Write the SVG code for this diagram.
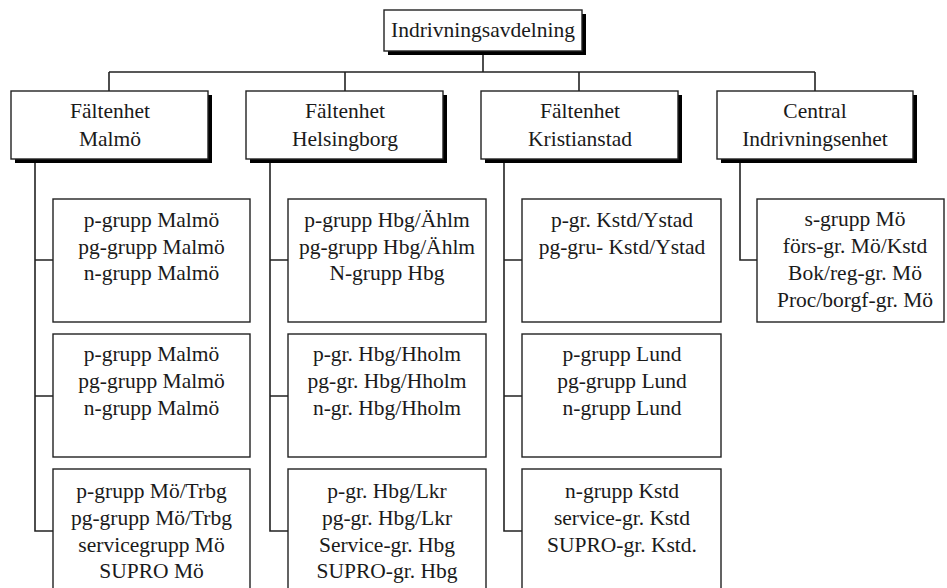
<svg xmlns="http://www.w3.org/2000/svg" width="947" height="588" viewBox="0 0 947 588">
<style>
.box{fill:#fff;stroke:#222;stroke-width:1.4}
.sh{fill:#000}
.ln{fill:none;stroke:#222;stroke-width:1.6}
.t text{font-size:21.5px;fill:#1a1a1a;text-anchor:middle}
</style>
<rect width="947" height="588" fill="#fff"/>
<g id="connectors">
<path class="ln" d="M483 51V72M109 72H815M109 72V91M345 72V91M579 72V91M815 72V91"/>
<path class="ln" d="M35 159V531H53M35 260H53M35 396H53"/>
<path class="ln" d="M270 159V531H288M270 260H288M270 396H288"/>
<path class="ln" d="M504 159V531H522M504 260H522M504 396H522"/>
<path class="ln" d="M740 159V260H757"/>
</g>
<g class="t" font-family="Liberation Serif, Times New Roman, serif">
<g id="root">
<rect class="sh" x="388" y="14" width="198" height="41"/>
<rect class="box" x="384" y="10" width="198" height="41"/>
<text x="483" y="37">Indrivningsavdelning</text>
</g>
<g id="malmo">
<rect class="sh" x="15" y="95" width="197" height="68"/>
<rect class="box" x="11" y="91" width="197" height="68"/>
<text x="110" y="118">Fältenhet</text>
<text x="110" y="146">Malmö</text>
</g>
<g id="helsingborg">
<rect class="sh" x="250" y="95" width="197" height="68"/>
<rect class="box" x="246" y="91" width="197" height="68"/>
<text x="345" y="118">Fältenhet</text>
<text x="345" y="146">Helsingborg</text>
</g>
<g id="kristianstad">
<rect class="sh" x="485" y="95" width="197" height="68"/>
<rect class="box" x="481" y="91" width="197" height="68"/>
<text x="580" y="118">Fältenhet</text>
<text x="580" y="146">Kristianstad</text>
</g>
<g id="central">
<rect class="sh" x="721" y="95" width="196" height="68"/>
<rect class="box" x="717" y="91" width="196" height="68"/>
<text x="815" y="118">Central</text>
<text x="815" y="146">Indrivningsenhet</text>
</g>
<g id="malmo1">
<rect class="box" x="53" y="199" width="197" height="123"/>
<text x="151.5" y="227">p-grupp Malmö</text>
<text x="151.5" y="254">pg-grupp Malmö</text>
<text x="151.5" y="280">n-grupp Malmö</text>
</g>
<g id="malmo2">
<rect class="box" x="53" y="334" width="197" height="123"/>
<text x="151.5" y="361">p-grupp Malmö</text>
<text x="151.5" y="388">pg-grupp Malmö</text>
<text x="151.5" y="415">n-grupp Malmö</text>
</g>
<g id="malmo3">
<rect class="box" x="53" y="469" width="197" height="140"/>
<text x="151.5" y="498">p-grupp Mö/Trbg</text>
<text x="151.5" y="525">pg-grupp Mö/Trbg</text>
<text x="151.5" y="552">servicegrupp Mö</text>
<text x="151.5" y="578">SUPRO Mö</text>
</g>
<g id="hbg1">
<rect class="box" x="288" y="199" width="198" height="123"/>
<text x="387" y="227">p-grupp Hbg/Ählm</text>
<text x="387" y="254">pg-grupp Hbg/Ählm</text>
<text x="387" y="280">N-grupp Hbg</text>
</g>
<g id="hbg2">
<rect class="box" x="288" y="334" width="198" height="123"/>
<text x="387" y="361">p-gr. Hbg/Hholm</text>
<text x="387" y="388">pg-gr. Hbg/Hholm</text>
<text x="387" y="415">n-gr. Hbg/Hholm</text>
</g>
<g id="hbg3">
<rect class="box" x="288" y="469" width="198" height="140"/>
<text x="387" y="498">p-gr. Hbg/Lkr</text>
<text x="387" y="525">pg-gr. Hbg/Lkr</text>
<text x="387" y="552">Service-gr. Hbg</text>
<text x="387" y="578">SUPRO-gr. Hbg</text>
</g>
<g id="kstd1">
<rect class="box" x="522" y="199" width="199" height="123"/>
<text x="622" y="227">p-gr. Kstd/Ystad</text>
<text x="622" y="254">pg-gru- Kstd/Ystad</text>
</g>
<g id="kstd2">
<rect class="box" x="522" y="334" width="199" height="123"/>
<text x="622" y="361">p-grupp Lund</text>
<text x="622" y="388">pg-grupp Lund</text>
<text x="622" y="415">n-grupp Lund</text>
</g>
<g id="kstd3">
<rect class="box" x="522" y="469" width="199" height="140"/>
<text x="622" y="498">n-grupp Kstd</text>
<text x="622" y="525">service-gr. Kstd</text>
<text x="622" y="552">SUPRO-gr. Kstd.</text>
</g>
<g id="central1">
<rect class="box" x="757" y="199" width="187" height="123"/>
<text x="855" y="226">s-grupp Mö</text>
<text x="855" y="253">förs-gr. Mö/Kstd</text>
<text x="855" y="280">Bok/reg-gr. Mö</text>
<text x="855" y="307">Proc/borgf-gr. Mö</text>
</g>
</g>
</svg>
